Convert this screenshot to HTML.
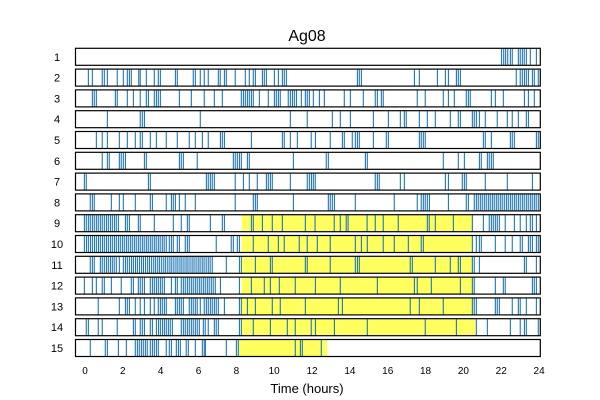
<!DOCTYPE html>
<html><head><meta charset="utf-8"><style>body{margin:0;background:#fff}svg{display:block;font-family:"Liberation Sans",sans-serif}</style></head>
<body>
<svg id="chart" width="600" height="400" xmlns="http://www.w3.org/2000/svg">
<text x="307" y="41" font-size="16" text-anchor="middle" fill="#000">Ag08</text>
<text x="307" y="393" font-size="13" text-anchor="middle" fill="#000">Time (hours)</text>
<g id="shades"></g><g id="marks"></g><g id="boxes"></g><g id="labels"></g><g id="xticks"></g>
</svg>
<script>
const rowLabels=["1","2","3","4","5","6","7","8","9","10","11","12","13","14","15"];
const xTickLabels=[0,2,4,6,8,10,12,14,16,18,20,22,24];
const shadeStart=[null,null,null,null,null,null,null,null,8.3,8.3,8.3,8.3,8.3,8.3,8.1];
const shadeEnd=[null,null,null,null,null,null,null,null,20.47,20.47,20.47,20.5,20.5,20.6,12.8];
const dense=(a,b,n)=>{const o=[];for(let i=0;i<n;i++)o.push(+(a+(b-a)*i/(n-1)).toFixed(2));return o;};
const row1=[21.98,22.09,22.19,22.3,22.44,22.54,22.86,22.96,23.07,23.17,23.28,23.49,23.81];
const row2=[0.23,0.44,0.96,1.07,1.23,1.75,2.07,2.28,2.39,2.49,2.88,2.96,3.28,3.70,3.91,4.02,4.81,4.91,5.75,5.86,6.12,6.33,6.54,7.07,7.17,7.39,7.49,7.96,8.49,8.70,8.91,9.02,9.39,9.49,9.60,10.02,10.23,10.44,10.54,10.65,14.39,14.49,14.6,17.39,17.65,18.6,19.02,19.18,19.6,19.7,19.81,22.75,22.96,23.07,23.18,23.28,23.39,23.6,23.7,23.91];
const row3=[0.44,0.54,0.65,1.65,1.75,2.28,2.60,2.96,3.28,3.39,3.70,3.81,3.91,4.02,5.02,5.65,6.33,6.86,7.28,8.28,8.39,8.49,8.60,8.70,8.81,8.91,9.23,9.70,10.02,10.12,10.23,10.33,10.75,10.86,10.97,11.07,11.18,11.44,11.65,11.75,11.86,12.07,12.39,12.65,13.70,14.02,14.7,15.33,15.44,15.65,15.75,17.54,17.96,18.91,19.18,19.49,20.12,20.23,20.33,21.44,21.65,22.07,23.18,23.39,23.70];
const row4=[1.23,2.96,3.07,3.18,6.12,10.86,11.75,13.07,13.49,14.02,15.23,16.02,16.65,16.86,16.96,17.65,18.07,18.49,19.28,19.70,19.81,20.44,20.54,20.65,20.81,21.12,21.75,22.28,22.54,22.86,23.28,23.39];
const row5=[0.65,0.96,1.23,1.86,2.28,2.70,2.96,3.07,3.49,3.81,4.33,4.91,5.54,5.86,6.23,6.54,7.18,7.28,7.39,8.81,10.44,10.54,10.86,11.23,11.96,12.18,12.96,13.6,13.7,14.12,14.28,14.39,14.49,15.23,15.91,16.02,17.65,17.75,17.86,17.96,21.02,21.12,21.44,22.44,22.54,22.65,23.81,23.91];
const row6=[0.96,1.23,1.33,1.86,1.96,2.07,2.18,3.18,3.28,5.02,5.12,5.23,5.96,7.86,7.96,8.07,8.18,8.28,8.6,8.7,11.02,12.75,12.86,14.81,14.91,18.91,19.70,20.02,20.81,20.91,21.23,21.33,21.44,21.54];
const row7=[0.02,0.12,3.39,3.49,6.44,6.54,6.65,6.75,6.86,7.96,8.39,8.70,9.12,9.60,9.70,9.81,9.91,10.86,11.75,11.86,11.97,12.07,12.17,15.33,15.44,15.54,16.65,16.86,19.02,19.18,19.91,20.02,20.12,21.12,22.28,23.6];
const row8=[0.33,0.44,0.54,1.44,1.86,2.07,2.70,3.49,3.60,4.33,4.60,4.70,4.81,5.02,5.33,5.86,7.96,8.91,9.02,9.12,11.02,12.86,12.96,13.07,13.18,14.28,16.33,17.54,17.75,17.86,17.96,18.07,18.18,19.18,20.12,20.23].concat(dense(20.54,23.91,33));
const row9=[0.02,0.12,0.23,0.33,0.44,0.54,0.65,0.75,0.86,0.96,1.07,1.18,1.28,1.39,1.49,1.60,1.70,1.81,2.18,2.28,2.39,2.86,2.96,3.70,4.70,5.12,5.44,5.54,6.65,7.28,7.39,8.81,8.91,9.39,9.91,10.44,11.65,12.16,13.17,13.49,13.8,13.9,14.9,15.33,15.75,16.54,18.07,18.17,18.49,19.44,20.44,21.02,21.33,21.44,21.54,21.65,21.75,21.86,22.17,22.65,22.96,23.28,23.49,23.6,23.81];
const row10=dense(0.02,4.33,42).concat([4.49,4.60,4.70,4.91,5.02,5.33,5.44,5.54,6.96,7.75,7.86,8.07,8.18,8.91,9.70,10.23,10.54,11.33,11.75,12.28,12.96,14.28,14.6,14.91,15.75,16.33,17.07,17.75,17.86,20.44,20.65,20.81,20.91,21.65,22.17,22.54,22.96,23.07,23.39,23.49,23.6,23.81,23.91]);
const row11=[0.33,0.44,0.54].concat(dense(0.86,1.70,9),[1.86],dense(2.07,6.75,45),[7.49,8.18,8.28,9.02,9.81,9.91,11.65,11.75,12.96,14.28,14.39,14.49,17.17,17.28,18.49,19.28,19.7,19.81,20.44,20.54,20.81,23.18,23.28,23.81]);
const row12=[0.02,0.44,0.65,0.96,1.07,1.44,1.96,2.49,2.60,2.86,2.96,3.07,3.18,3.49,3.60,3.70,3.81,3.91,4.02,4.12,4.23,4.60,4.81,4.91].concat(dense(5.12,6.91,18),[7.18,8.18,8.81,9.49,9.81,10.28,11.12,12.18,13.49,15.44,17.39,17.54,18.28,19.81,20.44,20.54,21.65,22.07,22.17,23.6,23.7,23.81]);
const row13=[0.75,1.86,2.18,2.28,2.39,2.70,2.96,3.18,3.49,3.70,3.91,4.02,4.12,4.23,4.33,4.81,4.91,5.02,5.12,5.23,5.54,5.65,5.75,5.86,5.96,6.12].concat(dense(6.33,7.07,8),[7.39,8.18,8.28,8.6,9.02,9.91,10.33,11.65,13.39,13.6,17.17,17.65,18.91,20.44,20.54,20.65,21.65,21.75,21.86,22.54,22.86,22.96,23.28,23.81]);
const row14=[0.12,0.23,0.75,0.96,1.75,2.60,2.70,2.96,3.07,3.18,3.49,3.60].concat(dense(3.81,4.65,9),dense(5.12,6.07,10),[6.28,6.38,6.54,6.86,6.96,7.07,8.18,8.28,8.91,9.81,10.70,11.12,11.96,12.18,13.18,14.91,17.96,19.6,20.65,21.23,22.44,22.96,23.18,23.28,23.91]);
const row15=[0.33,1.12,1.23,1.81,2.23].concat(dense(2.70,3.33,7),dense(3.49,3.91,5),[4.33,4.49,4.60,4.86,4.97,5.07,5.38,5.49,5.86,6.23,6.33,6.39,7.49,8.02,8.12,11.12,11.39,11.49,12.49]);
const rows=[row1,row2,row3,row4,row5,row6,row7,row8,row9,row10,row11,row12,row13,row14,row15];

const NS="http://www.w3.org/2000/svg";
const X0=75.5,X1=540.3,TOP=48.3,STEP=20.8,H=17;
const xs=h=>84+19*h;
const yTop=i=>TOP+i*STEP;
function mk(tag,attrs,parent){const e=document.createElementNS(NS,tag);for(const k in attrs)e.setAttribute(k,attrs[k]);document.getElementById(parent).appendChild(e);return e;}
rowLabels.forEach((lab,i)=>{
  const y=yTop(i);
  if(shadeStart[i]!==null){
    const r=mk('rect',{x:xs(shadeStart[i]),y:y,width:xs(shadeEnd[i])-xs(shadeStart[i]),height:H,fill:'#ffff60'},'shades');
    
    
  }
  rows[i].forEach(t=>{
    const l=mk('line',{x1:xs(t),x2:xs(t),y1:y+0.5,y2:y+H-0.5,stroke:'#1f77b4','stroke-width':1.1},'marks');
    
    
  });
  const b=mk('rect',{x:X0,y:y,width:X1-X0,height:H,fill:'none',stroke:'#000','stroke-width':1.2},'boxes');
  
  
  const t=mk('text',{x:57,y:y+H/2+4,'font-size':11,'text-anchor':'middle',fill:'#000'},'labels');
  t.textContent=lab;
  
  
});
xTickLabels.forEach(v=>{
  const t=mk('text',{x:85+18.92*v,y:374,'font-size':10,'text-anchor':'middle',fill:'#000'},'xticks');
  t.textContent=v;
  
  
});
</script>
</body></html>
